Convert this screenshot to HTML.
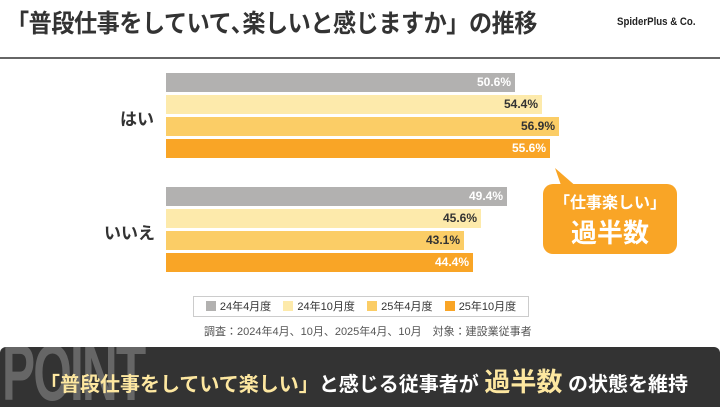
<!DOCTYPE html>
<html><head><meta charset="utf-8"><style>
body{margin:0;width:720px;height:405px;background:#fff;position:relative;overflow:hidden;font-family:"Liberation Sans","Noto Sans CJK JP",sans-serif;}
.a{position:absolute}
.bar{position:absolute;left:166px;height:19px;}
.v{position:absolute;right:4px;top:0;line-height:19px;font-size:12px;font-weight:bold;}
.g{background:#b2b1b0}.l{background:#fdeaab}.m{background:#fbcd66}.o{background:#f9a526}
.w{color:#fff}.k{color:#333}
.leg span.sq{display:inline-block;width:10px;height:10px;vertical-align:-1px;margin-right:4px}
</style></head><body>
<div class="a" style="left:6px;top:4px;font-size:25px;font-weight:bold;color:#333;letter-spacing:-0.5px;transform:scaleX(0.925);transform-origin:left;white-space:nowrap">「普段仕事をしていて､楽しいと感じますか」の推移</div>
<div class="a" style="left:617px;top:16px;font-size:11px;font-weight:bold;color:#222;transform:scaleX(0.88);transform-origin:left;white-space:nowrap">SpiderPlus &amp; Co.</div>
<div class="a" style="left:0;top:57px;width:720px;height:2px;background:#666"></div>

<div class="a" style="left:120px;top:105px;font-size:17px;font-weight:bold;color:#333">はい</div>
<div class="a" style="left:104px;top:219px;font-size:17px;font-weight:bold;color:#333">いいえ</div>

<div class="bar g" style="top:73px;width:349px"><span class="v w">50.6%</span></div>
<div class="bar l" style="top:95px;width:376px"><span class="v k">54.4%</span></div>
<div class="bar m" style="top:117px;width:393px"><span class="v k">56.9%</span></div>
<div class="bar o" style="top:139px;width:384px"><span class="v w">55.6%</span></div>
<div class="bar g" style="top:187px;width:341px"><span class="v w">49.4%</span></div>
<div class="bar l" style="top:209px;width:315px"><span class="v k">45.6%</span></div>
<div class="bar m" style="top:231px;width:298px"><span class="v k">43.1%</span></div>
<div class="bar o" style="top:253px;width:307px"><span class="v w">44.4%</span></div>

<svg class="a" style="left:550px;top:168px" width="30" height="20"><polygon points="5,0 28,20 12,20" fill="#f9a526"/></svg>
<div class="a" style="left:543px;top:184px;width:134px;height:70px;background:#f9a526;border-radius:10px;color:#fff;text-align:center;font-weight:bold">
<div style="font-size:16px;margin-top:5px">「仕事楽しい」</div>
<div style="font-size:26px;margin-top:0px">過半数</div></div>

<div class="a leg" style="left:193px;top:296px;width:336px;height:21px;border:1px solid #ccc;font-size:11px;color:#333;line-height:21px;text-align:center;box-sizing:border-box">
<span class="sq g"></span>24年4月度&nbsp;&nbsp;&nbsp;&nbsp;<span class="sq l"></span>24年10月度&nbsp;&nbsp;&nbsp;&nbsp;<span class="sq m"></span>25年4月度&nbsp;&nbsp;&nbsp;&nbsp;<span class="sq o"></span>25年10月度</div>
<div class="a" style="left:204px;top:323px;font-size:11px;color:#555">調査：2024年4月、10月、2025年4月、10月　対象：建設業従事者</div>

<div class="a" style="left:0;top:347px;width:720px;height:60px;background:#333;border-radius:6px 6px 0 0;overflow:hidden">
<div class="a" style="left:2px;top:-14px;font-size:80px;font-weight:bold;color:#666;letter-spacing:-3px;transform:scaleX(0.62);transform-origin:left;line-height:1">POINT</div>
<div class="a" style="left:40px;top:15px;font-size:20px;font-weight:bold;color:#fff;white-space:nowrap"><span style="color:#fde7a0">「普段仕事をしていて楽しい」</span>と感じる従事者が <span style="color:#fde7a0;font-size:26px">過半数</span> の状態を維持</div>
</div>
</body></html>
